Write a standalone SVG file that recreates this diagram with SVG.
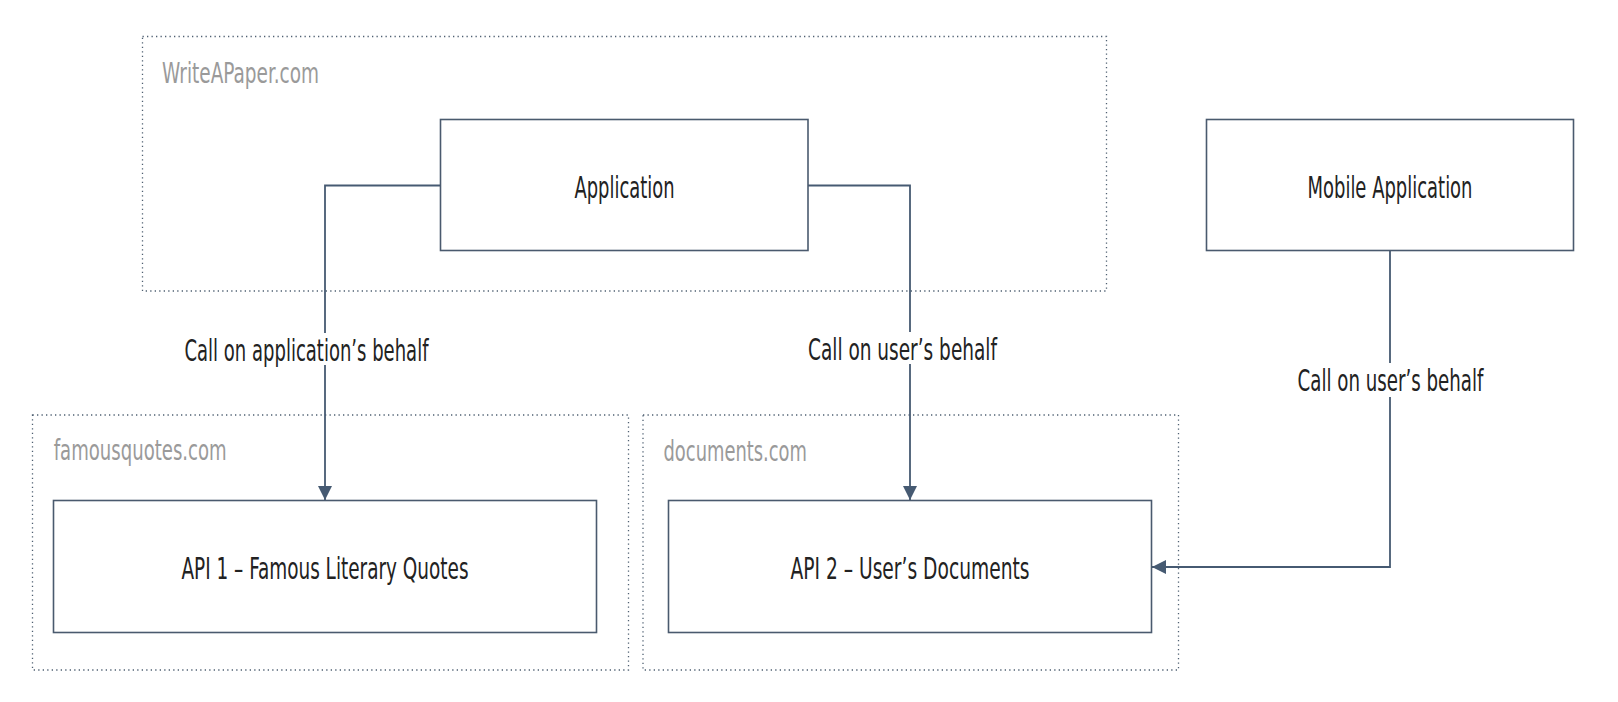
<svg xmlns="http://www.w3.org/2000/svg" width="1618" height="702" viewBox="0 0 1618 702">
<style>
.bg{fill:#ffffff}
.zone{fill:none;stroke:#4f6072;stroke-width:1.3;stroke-dasharray:1.3 3.2}
.zlabel{font-family:"Liberation Sans Narrow","DejaVu Sans Condensed","Liberation Sans",sans-serif;font-size:28px;fill:#9a9a9a}
.box{fill:#ffffff;stroke:#4a5a6e;stroke-width:1.6}
.ntext{font-family:"Liberation Sans Narrow","DejaVu Sans Condensed","Liberation Sans",sans-serif;font-size:31px;fill:#222222;text-anchor:middle}
.conn{fill:none;stroke:#465a72;stroke-width:1.8}
.lblbg{fill:#ffffff}
.ltext{font-family:"Liberation Sans Narrow","DejaVu Sans Condensed","Liberation Sans",sans-serif;font-size:31px;fill:#222222;text-anchor:middle}
</style>
<defs>
<marker id="arrow" markerUnits="userSpaceOnUse" markerWidth="14" markerHeight="14" viewBox="0 0 12 12" refX="12" refY="6" orient="auto">
<path d="M0,0 L12,6 L0,12 Z" fill="#465a72"/>
</marker>
</defs>
<rect class="bg" x="0" y="0" width="1618" height="702"/>

<g id="zone-writeapaper">
<rect class="zone" x="142.5" y="36.5" width="964" height="254.5"/>
<text class="zlabel" x="162" y="82.5" textLength="157" lengthAdjust="spacingAndGlyphs">WriteAPaper.com</text>
</g>
<g id="zone-famousquotes">
<rect class="zone" x="32.5" y="415" width="596" height="255"/>
<text class="zlabel" x="53.7" y="460" textLength="173" lengthAdjust="spacingAndGlyphs">famousquotes.com</text>
</g>
<g id="zone-documents">
<rect class="zone" x="643" y="415" width="535.5" height="255"/>
<text class="zlabel" x="663.5" y="461" textLength="143.5" lengthAdjust="spacingAndGlyphs">documents.com</text>
</g>

<g id="connectors">
<path class="conn" d="M440.5,185.5 H325 V500" marker-end="url(#arrow)"/>
<path class="conn" d="M808,185.5 H910 V500" marker-end="url(#arrow)"/>
<path class="conn" d="M1390,251 V567 H1152" marker-end="url(#arrow)"/>
<rect class="lblbg" x="180" y="333" width="252" height="32"/>
<text class="ltext" x="306.5" y="361" textLength="244" lengthAdjust="spacingAndGlyphs">Call on application’s behalf</text>
<rect class="lblbg" x="804" y="332" width="197" height="32"/>
<text class="ltext" x="902.5" y="360" textLength="189" lengthAdjust="spacingAndGlyphs">Call on user’s behalf</text>
<rect class="lblbg" x="1293" y="363" width="195" height="34"/>
<text class="ltext" x="1390.5" y="391" textLength="186" lengthAdjust="spacingAndGlyphs">Call on user’s behalf</text>
</g>

<g id="node-application">
<rect class="box" x="440.5" y="119.5" width="367.5" height="131"/>
<text class="ntext" x="624.5" y="198" textLength="100" lengthAdjust="spacingAndGlyphs">Application</text>
</g>
<g id="node-mobile">
<rect class="box" x="1206.5" y="119.5" width="367" height="131"/>
<text class="ntext" x="1390" y="198" textLength="165" lengthAdjust="spacingAndGlyphs">Mobile Application</text>
</g>
<g id="node-api1">
<rect class="box" x="53.5" y="500.5" width="543" height="132"/>
<text class="ntext" x="325" y="579" textLength="287" lengthAdjust="spacingAndGlyphs">API 1 – Famous Literary Quotes</text>
</g>
<g id="node-api2">
<rect class="box" x="668.5" y="500.5" width="483" height="132"/>
<text class="ntext" x="910" y="579" textLength="239" lengthAdjust="spacingAndGlyphs">API 2 – User’s Documents</text>
</g>
</svg>
